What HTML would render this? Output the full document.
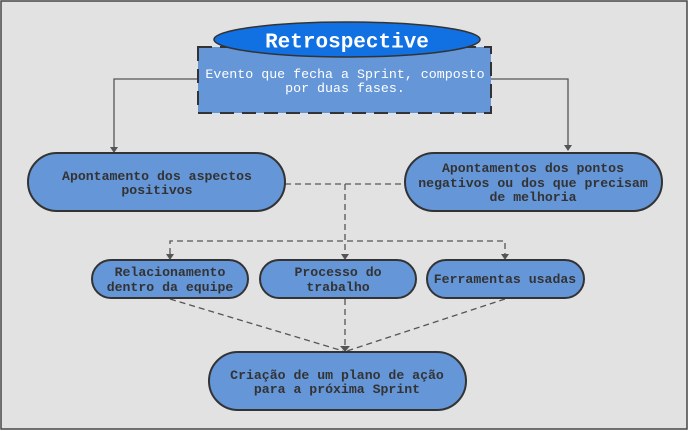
<!DOCTYPE html>
<html><head><style>body{margin:0;background:#fff}svg{display:block}</style></head><body>
<svg width="688" height="431" viewBox="0 0 688 431" xmlns="http://www.w3.org/2000/svg" font-family="Liberation Mono, monospace">
<rect x="1" y="1" width="686" height="428" fill="#e2e2e2" stroke="#444" stroke-width="1.5"/>
<g fill="none" stroke="#555" stroke-width="1.3">
<path d="M198,79 H114 V147"/><path d="M491,79 H568 V145"/>
</g>
<g fill="#555"><path d="M110,147 L118,147 L114,153z"/><path d="M564,145 L572,145 L568,151z"/></g>
<g fill="none" stroke="#555" stroke-width="1.3" stroke-dasharray="6,4">
<path d="M285,184 H405"/><path d="M345,184 V254"/><path d="M170,254 V241 H505 V254"/>
<path d="M170,299 L343,351"/><path d="M345,299 V350"/><path d="M505,299 L347,351"/>
</g>
<g fill="#555"><path d="M166,254 L174,254 L170,260z"/><path d="M341,254 L349,254 L345,260z"/><path d="M501,254 L509,254 L505,260z"/><path d="M340,346 L350,346 L345,352z"/></g>
<rect x="198" y="47" width="293" height="66" fill="#6496d8" stroke="#333" stroke-width="2" stroke-dasharray="14,8"/>
<ellipse cx="347" cy="39.5" rx="133" ry="17.5" fill="#1170e2" stroke="#333" stroke-width="1.5"/>
<text x="347" y="47.5" text-anchor="middle" fill="#fff" font-size="21" font-weight="bold">Retrospective</text>
<g fill="#fff" font-size="13.3" text-anchor="middle"><text x="345" y="78">Evento que fecha a Sprint, composto</text><text x="345" y="92">por duas fases.</text></g>
<g fill="#6496d8" stroke="#333" stroke-width="2">
<rect x="28" y="153" width="257" height="58" rx="29"/>
<rect x="405" y="153" width="257" height="58" rx="29"/>
<rect x="92" y="260" width="156" height="38" rx="19"/>
<rect x="260" y="260" width="156" height="38" rx="19"/>
<rect x="427" y="260" width="157" height="38" rx="19"/>
<rect x="209" y="352" width="257" height="58" rx="29"/>
</g>
<g fill="#333" font-size="13.2" font-weight="bold" text-anchor="middle">
<text x="157" y="180">Apontamento dos aspectos</text><text x="157" y="194">positivos</text>
<text x="533" y="172">Apontamentos dos pontos</text><text x="533" y="187">negativos ou dos que precisam</text><text x="533" y="201">de melhoria</text>
<text x="170" y="276">Relacionamento</text><text x="170" y="291">dentro da equipe</text>
<text x="338" y="276">Processo do</text><text x="338" y="291">trabalho</text>
<text x="505" y="283">Ferramentas usadas</text>
<text x="337" y="379">Criação de um plano de ação</text><text x="337" y="393">para a próxima Sprint</text>
</g>
</svg>
</body></html>
